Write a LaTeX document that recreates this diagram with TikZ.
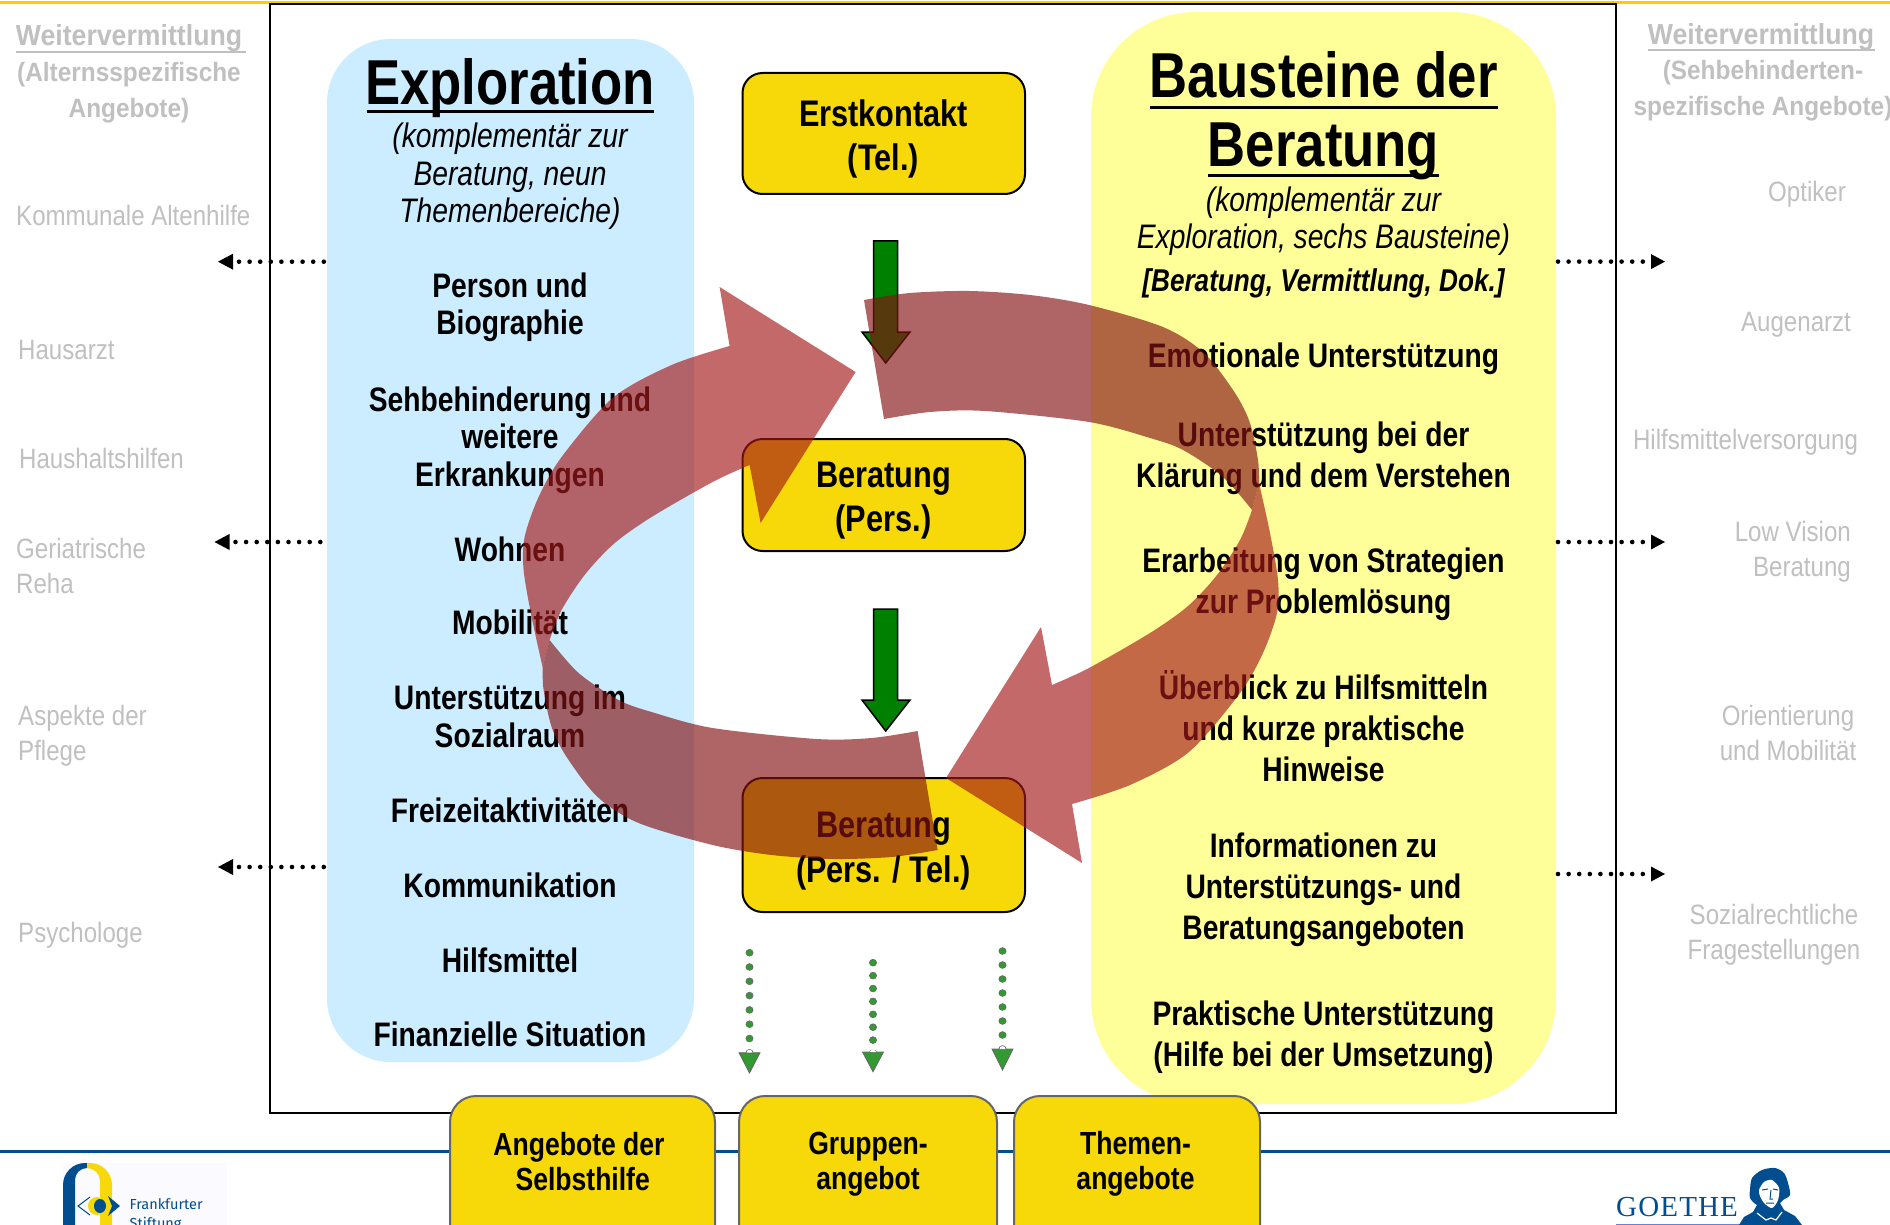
\documentclass[tikz,border=0pt]{standalone}
\usepackage{fontspec}
\setmainfont{Liberation Sans}
\newfontfamily\fnarrow[FakeStretch=0.83]{Liberation Sans}
\newfontfamily\fgray[FakeStretch=0.92]{Liberation Sans}
\newfontfamily\fgrayr[FakeStretch=0.86]{Liberation Sans}
\newfontfamily\fserifg[LetterSpace=4]{Liberation Serif}
\newfontfamily\flogo{Fira Sans}
\definecolor{boxgold}{HTML}{F7D90A}
\definecolor{paleblue}{HTML}{CCECFF}
\definecolor{paleyellow}{HTML}{FFFF99}
\definecolor{grayt}{HTML}{C0C0C0}
\definecolor{linieblue}{HTML}{004E8F}
\definecolor{topgold}{HTML}{FFCC00}
\definecolor{cycA}{HTML}{A51919}
\definecolor{cycB}{HTML}{851313}
\definecolor{dotgreen}{HTML}{339933}
\newcommand{\halfcycle}{%
  \fill[cycB,opacity=.65] plot[smooth] coordinates {(864,300) (910,293) (969,291) (1030,295) (1089,305) (1163,327) (1204,353) (1235,393) (1250,423) (1258,460) (1259,483)}
     -- (1252,510) -- plot[smooth] coordinates {(1252,510) (1223,477) (1183,450) (1150,438) (1089,422) (985,411) (930,412) (884,419)} -- cycle;
  \fill[cycA,opacity=.65] (1252,510) -- plot[smooth] coordinates {(1259,483) (1270,533) (1278,580) (1277,613) (1263,653) (1240,693) (1189,752) (1130,785) (1072,804)}
     -- (1082,863) -- (946,778) -- (1041,627) -- (1052,685) -- plot[smooth] coordinates {(1052,685) (1089,668) (1150,633) (1188,606) (1217,575) (1240,540) (1252,510)} -- cycle;
}
\tikzset{
  zone/.style={rounded corners=#1},
  goldbox/.style={draw=black,line width=2pt,fill=boxgold,rounded corners=20pt},
  footbox/.style={draw=black!60,line width=2pt,fill=boxgold,rounded corners=26pt},
  bt/.style={font=\fnarrow\bfseries\fontsize{34}{41}\selectfont,align=center,inner sep=0pt,text=black},
  bts/.style={font=\fnarrow\bfseries\fontsize{34}{37.5}\selectfont,align=center,inner sep=0pt,text=black},
  bx/.style={font=\fnarrow\bfseries\fontsize{37}{44.5}\selectfont,align=center,inner sep=0pt,text=black},
  fx/.style={font=\fnarrow\bfseries\fontsize{32}{35}\selectfont,align=center,inner sep=0pt,text=black},
  it/.style={font=\fnarrow\itshape\fontsize{34}{37.5}\selectfont,align=center,inner sep=0pt,text=black},
  ht/.style={font=\fnarrow\bfseries\fontsize{63.5}{69}\selectfont,align=center,inner sep=0pt,text=black},
  gh/.style={font=\fgray\bfseries\fontsize{29}{36}\selectfont,align=center,inner sep=0pt,text=grayt},
  gb/.style={font=\fgray\bfseries\fontsize{26.5}{35.5}\selectfont,align=center,inner sep=0pt,text=grayt},
  gr/.style={font=\fgrayr\fontsize{28}{35}\selectfont,inner sep=0pt,text=grayt},
  bigarrow/.style={draw=black,line width=1.5pt,fill=green!50!black},
  gdot/.style={draw=black!60,line width=.6pt,fill=dotgreen},
  ghead/.style={draw=black!60,line width=.8pt,fill=dotgreen},
  bdot/.style={fill=black},
}
\begin{document}
\begin{tikzpicture}[x=1pt,y=-1pt]
\useasboundingbox (0,0) rectangle (1890,1225);
\clip (0,0) rectangle (1890,1225);
\fill[white] (0,0) rectangle (1890,1225);
% rules
\fill[topgold] (0,1) rectangle (1890,4);
\draw[linieblue,line width=3pt] (0,1151) -- (1890,1151);
% frame
\draw[black,line width=2.4pt,fill=white] (270,4) rectangle (1616,1113);
% columns
\fill[paleblue,zone=64pt] (327,39) rectangle (694,1062);
\fill[paleyellow,zone=105pt] (1091,12) rectangle (1556,1104);
% left column text
\node[ht] (expl) at (510,88) {Exploration};
\draw[line width=3pt] (367,112) -- (654,112);
\node[it] (expsub) at (510,176.5) {(komplementär zur\\Beratung, neun\\Themenbereiche)};
\node[bts] (l1) at (510,307.5) {Person und\\Biographie};
\node[bts] (l2) at (510,440) {Sehbehinderung und\\weitere\\Erkrankungen};
\node[bt] (l3) at (510,549) {Wohnen};
\node[bt] (l4) at (510,622) {Mobilität};
\node[bts] (l5) at (510,716.5) {Unterstützung im\\Sozialraum};
\node[bt] (l6) at (510,810) {Freizeitaktivitäten};
\node[bt] (l7) at (510,885) {Kommunikation};
\node[bt] (l8) at (510,960) {Hilfsmittel};
\node[bt] (l9) at (510,1034) {Finanzielle Situation};
% right column text
\node[ht] (baus) at (1323.5,116) {Bausteine der\\Beratung};
\draw[line width=3pt] (1150,108) -- (1498,108);
\draw[line width=3pt] (1208,176) -- (1439,176);
\node[it] (bsub) at (1323.5,221) {(komplementär zur\\Exploration, sechs Bausteine)};
\node[it,font=\fnarrow\bfseries\itshape\fontsize{31.5}{36}\selectfont] (bsub2) at (1323.5,283) {[Beratung, Vermittlung, Dok.]};
\node[bt] (r1) at (1323.5,358.5) {Emotionale Unterstützung};
\node[bt] (r2) at (1323.5,458.5) {Unterstützung bei der\\Klärung und dem Verstehen};
\node[bt] (r3) at (1323.5,584.5) {Erarbeitung von Strategien\\zur Problemlösung};
\node[bt] (r4) at (1323.5,726.5) {Überblick zu Hilfsmitteln\\und kurze praktische\\Hinweise};
\node[bt] (r5) at (1323.5,890) {Informationen zu\\Unterstützungs- und\\Beratungsangeboten};
\node[bt] (r6) at (1323.5,1037) {Praktische Unterstützung\\(Hilfe bei der Umsetzung)};
% gold boxes
\draw[goldbox] (742.5,73) rectangle (1025,194);
\node[bx] (b1) at (883.5,139) {Erstkontakt\\(Tel.)};
\draw[goldbox] (742.5,439) rectangle (1025,551);
\node[bx] (b2) at (883.5,500.5) {Beratung\\(Pers.)};
\draw[goldbox] (742.5,778) rectangle (1025,912);
\node[bx] (b3) at (883.5,851) {Beratung\\(Pers. / Tel.)};
% footer boxes
\draw[footbox] (450,1096) rectangle (715,1300);
\node[fx] (f1) at (579,1162) {Angebote der\\\ Selbsthilfe};
\draw[footbox] (739,1096) rectangle (997,1300);
\node[fx] (f2) at (868,1164) {Gruppen-\\angebot};
\draw[footbox] (1014,1096) rectangle (1260,1300);
\node[fx] (f3) at (1135.5,1164) {Themen-\\angebote};
% green block arrows
\draw[bigarrow] (873.5,241) -- (897.5,241) -- (897.5,332) -- (910,332) -- (885.7,363) -- (862,332) -- (873.5,332) -- cycle;
\draw[bigarrow] (873.5,609) -- (897.5,609) -- (897.5,700) -- (910,700) -- (885.7,731) -- (862,700) -- (873.5,700) -- cycle;
% green dotted arrows
\foreach \k in {0,...,7} \draw[gdot] (749.5,952.7+14.3*\k) ellipse [x radius=3.6,y radius=3.4];
\draw[ghead] (739,1052.7) -- (760,1052.7) -- (749.5,1073) -- cycle;
\fill[white] (749.5,1052.7) ++(-3,0) arc (180:360:3) -- cycle;
\foreach \k in {0,...,7} \draw[gdot] (873,962.7+12.9*\k) ellipse [x radius=3.6,y radius=3.4];
\draw[ghead] (862.5,1052) -- (883.5,1052) -- (873,1071.7) -- cycle;
\fill[white] (873,1052) ++(-3,0) arc (180:360:3) -- cycle;
\foreach \k in {0,...,7} \draw[gdot] (1002.5,951+14*\k) ellipse [x radius=3.6,y radius=3.4];
\draw[ghead] (992,1049) -- (1013,1049) -- (1002.5,1070) -- cycle;
\fill[white] (1002.5,1049) ++(-3,0) arc (180:360:3) -- cycle;
% black dotted arrows
\foreach \yy/\xs in {261.7/218,542/214.5,867/218}{
  \fill[bdot] (\xs,\yy) -- (\xs+15,\yy-8) -- (\xs+15,\yy+8) -- cycle;
  \foreach \k in {0,...,8} \fill[bdot] (\xs+21+10.6*\k,\yy) circle (2.3);
}
\foreach \yy in {261.6,542,874}{
  \fill[bdot] (1665,\yy) -- (1651,\yy-7.5) -- (1651,\yy+7.5) -- cycle;
  \foreach \k in {0,...,8} \fill[bdot] (1558+10.6*\k,\yy) circle (2.3);
}
% gray left
\node[gh] (gl) at (129,38) {Weitervermittlung};
\draw[grayt,line width=2.5pt] (16,52) -- (246,52);
\node[gb] (gla) at (129,92.5) {(Alternsspezifische\\Angebote)};
\node[gr,anchor=west] (gl1) at (16,215) {Kommunale Altenhilfe};
\node[gr,anchor=west] (gl2) at (18,350) {Hausarzt};
\node[gr,anchor=west] (gl3) at (19,458) {Haushaltshilfen};
\node[gr,anchor=west,align=left] (gl4) at (16,565.5) {Geriatrische\\Reha};
\node[gr,anchor=west,align=left] (gl5) at (18,735.5) {Aspekte der\\Pflege};
\node[gr,anchor=west] (gl6) at (18,935) {Psychologe};
% gray right
\node[gh] (gr0) at (1761,37) {Weitervermittlung};
\draw[grayt,line width=2.5pt] (1648,50) -- (1875,50);
\node[gb] (gr0a) at (1763,90.5) {(Sehbehinderten-\\spezifische Angebote)};
\node[gr] (gr1) at (1807,194) {Optiker};
\node[gr] (gr2) at (1796,325) {Augenarzt};
\node[gr] (gr3) at (1745.5,442) {Hilfsmittelversorgung};
\node[gr,anchor=east,align=right] (gr4) at (1851,552) {Low Vision\\Beratung};
\node[gr,align=center] (gr5) at (1788,732.5) {Orientierung\\und Mobilität};
\node[gr,align=center] (gr6) at (1774,935) {Sozialrechtliche\\Fragestellungen};
% left logo
\fill[blue!2] (63,1163) rectangle (227,1225);
\fill[linieblue] (63,1225) -- (63,1185) arc (180:270:22) -- (87,1163) -- (87,1168) arc (270:180:12) -- (75,1225) -- cycle;
\fill[boxgold] (112,1225) -- (112,1185) arc (0:-90:22) -- (87,1163) -- (87,1168) arc (-90:0:13) -- (100,1225) -- cycle;
\draw[linieblue,line width=1pt] (90,1197) -- (78,1206) -- (90,1215);
\fill[boxgold] (97,1206) ellipse (9 and 9);
\fill[linieblue] (100,1206) ellipse (6 and 7);
\fill[linieblue] (108,1196) -- (120,1206) -- (108,1216) -- (112,1206) -- cycle;
\node[font=\flogo\fontsize{14.5}{19}\selectfont,text=linieblue,anchor=west,inner sep=0pt,align=left] (logo) at (129.5,1215.5) {Frankfurter\\Stiftung};
% Goethe logo
\node[font=\fserifg\fontsize{29}{30}\selectfont,text=linieblue,anchor=west,inner sep=0pt] (goethe) at (1616,1207) {GOETHE};
\draw[blue!40!linieblue!60!white,line width=1.5pt] (1616,1224.5) -- (1745,1224.5);
\fill[linieblue] plot[smooth cycle] coordinates {(1750,1190) (1752,1178) (1762,1170) (1775,1168) (1784,1173) (1788,1183) (1790,1195) (1783,1200) (1778,1205) (1770,1208) (1757,1205) (1750,1198)};
\fill[linieblue] (1739,1225) -- (1744,1217) -- (1753,1212) -- (1758,1203) -- (1780,1203) -- (1784,1210) -- (1795,1216) -- (1802,1225) -- cycle;
\fill[white] plot[smooth cycle] coordinates {(1759,1190) (1764,1182) (1772,1180) (1779,1188) (1778,1200) (1772,1208) (1764,1203) (1760,1196)};
\draw[linieblue,line width=1pt] (1762,1190) -- (1768,1189) (1773,1189) -- (1778,1190) (1771,1190) -- (1770,1199) -- (1773,1199) (1766,1203) -- (1774,1203);
\draw[white,line width=1.2pt] (1757,1213) -- (1766,1220) -- (1771,1218) -- (1776,1220) -- (1782,1212);
% cycle arrows on top
\halfcycle
\begin{scope}[rotate around={180:(900.8,575)}]
\halfcycle
\end{scope}
\end{tikzpicture}
\end{document}
